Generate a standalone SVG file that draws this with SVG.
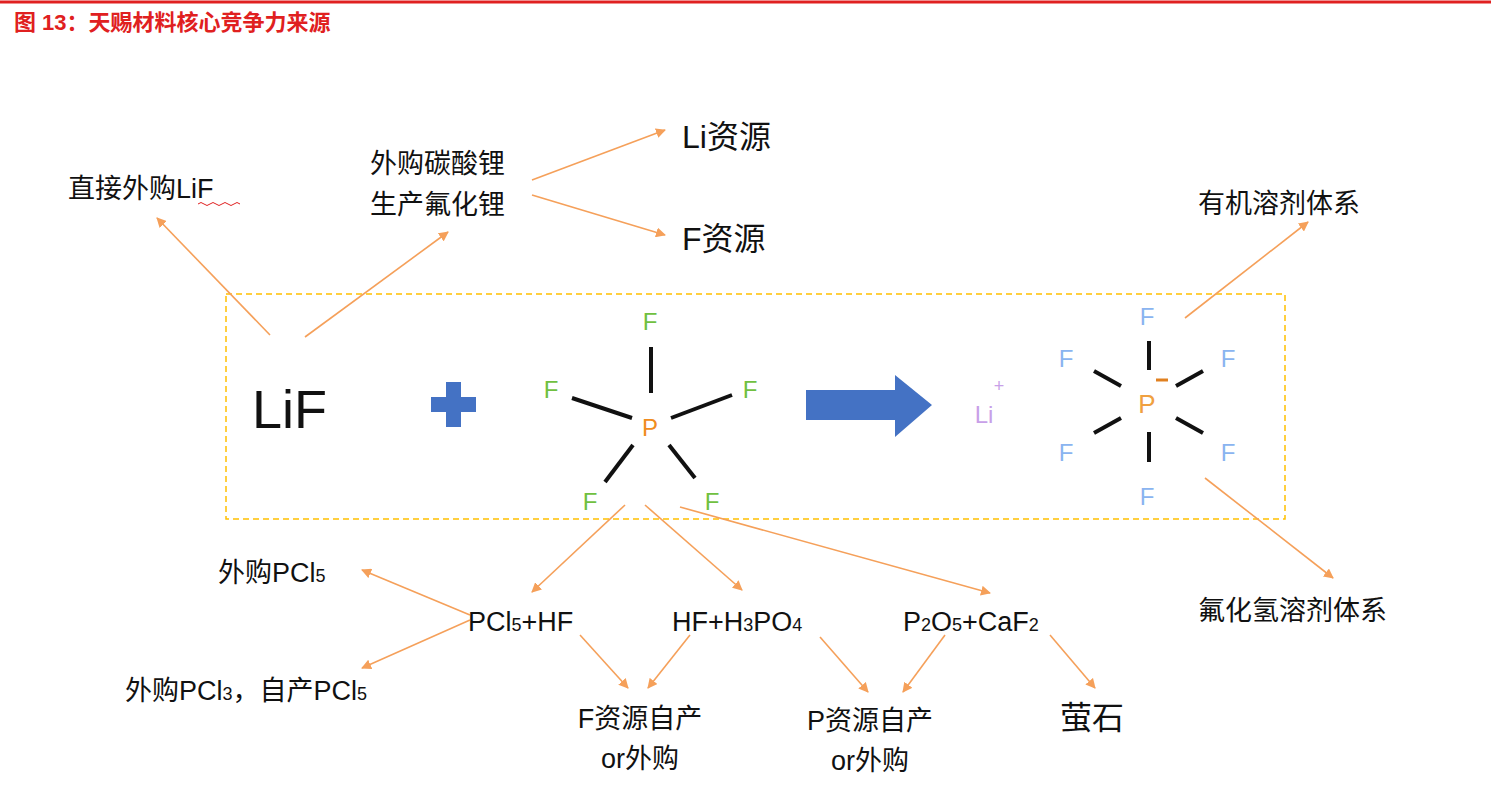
<svg xmlns="http://www.w3.org/2000/svg" width="1491" height="807" viewBox="0 0 1491 807">
<style>
text{font-family:"Liberation Sans","Noto Sans CJK SC",sans-serif;fill:#111}
.t{font-size:27px}
.a{stroke:#F5A05A;stroke-width:1.6;fill:none;marker-end:url(#ah)}
.b{stroke:#111;stroke-width:4;stroke-linecap:butt}
.g{fill:#70C040;font-size:24px}
.f{fill:#8AB4F0;font-size:24px}
</style>
<defs><marker id="ah" markerWidth="10" markerHeight="10" refX="9" refY="5" orient="auto" markerUnits="userSpaceOnUse"><path d="M0,0 L10,5 L0,10 z" fill="#F5A05A"/></marker></defs>
<rect width="1491" height="807" fill="#fff"/>
<line x1="0" y1="2" x2="1491" y2="2" stroke="#E02020" stroke-width="3"/>
<text x="14" y="30" style="fill:#E02020;font-size:22px;font-weight:bold">图 13：天赐材料核心竞争力来源</text>
<rect x="226" y="294" width="1059" height="225" fill="none" stroke="#FFC000" stroke-width="1.5" stroke-dasharray="6,4"/>
<g id="n-lif"><text x="252" y="428" style="font-size:54px">LiF</text></g>
<g id="n-plus"><path d="M446,382h15v15h15v15h-15v15h-15v-15h-15v-15h15z" fill="#4472C4"/></g>
<g id="n-pf5">
<text x="650" y="436" text-anchor="middle" style="fill:#F08C20;font-size:24px">P</text>
<line class="b" x1="651" y1="347" x2="651" y2="393"/>
<line class="b" x1="572" y1="398" x2="632" y2="418"/>
<line class="b" x1="732" y1="395" x2="671" y2="418"/>
<line class="b" x1="633" y1="445" x2="605" y2="482"/>
<line class="b" x1="669" y1="445" x2="695" y2="478"/>
<text class="g" x="650" y="330" text-anchor="middle">F</text>
<text class="g" x="551" y="398" text-anchor="middle">F</text>
<text class="g" x="750" y="398" text-anchor="middle">F</text>
<text class="g" x="590" y="510" text-anchor="middle">F</text>
<text class="g" x="712" y="510" text-anchor="middle">F</text>
</g>
<g id="n-arrow"><path d="M806,390h89v-15l37,30l-37,32v-17h-89z" fill="#4472C4"/></g>
<g id="n-lipf6">
<text x="984" y="423" text-anchor="middle" style="fill:#C8A0E8;font-size:24px">Li</text>
<text x="999" y="392" text-anchor="middle" style="fill:#C8A0E8;font-size:18px">+</text>
<text x="1147" y="413" text-anchor="middle" style="fill:#F0A040;font-size:26px">P</text>
<line x1="1156" y1="380" x2="1168" y2="380" stroke="#E08020" stroke-width="3"/>
<line class="b" x1="1149" y1="341" x2="1149" y2="370"/>
<line class="b" x1="1149" y1="432" x2="1149" y2="462"/>
<line class="b" x1="1094" y1="371" x2="1121" y2="386"/>
<line class="b" x1="1176" y1="386" x2="1203" y2="371"/>
<line class="b" x1="1094" y1="433" x2="1121" y2="418"/>
<line class="b" x1="1176" y1="418" x2="1203" y2="433"/>
<text class="f" x="1147" y="325" text-anchor="middle">F</text>
<text class="f" x="1066" y="367" text-anchor="middle">F</text>
<text class="f" x="1228" y="367" text-anchor="middle">F</text>
<text class="f" x="1066" y="461" text-anchor="middle">F</text>
<text class="f" x="1228" y="461" text-anchor="middle">F</text>
<text class="f" x="1147" y="505" text-anchor="middle">F</text>
</g>
<g id="n-direct"><text class="t" x="68" y="198">直接外购LiF</text><path d="M198,204q3,-3 6,0t6,0t6,0t6,0t6,0t6,0t6,0" stroke="#E02020" fill="none" stroke-width="1"/></g>
<g id="n-buy"><text class="t" x="370" y="173">外购碳酸锂</text><text class="t" x="370" y="214">生产氟化锂</text></g>
<g id="n-li"><text x="682" y="148" style="font-size:32px">Li资源</text></g>
<g id="n-f"><text x="682" y="250" style="font-size:32px">F资源</text></g>
<g id="n-org"><text class="t" x="1198" y="213">有机溶剂体系</text></g>
<g id="n-hf"><text class="t" x="1198" y="620">氟化氢溶剂体系</text></g>
<g id="n-pcl5buy"><text class="t" x="218" y="582">外购PCl<tspan font-size="18">5</tspan></text></g>
<g id="n-pcl3"><text class="t" x="125" y="700">外购PCl<tspan font-size="18">3</tspan>，自产PCl<tspan font-size="18">5</tspan></text></g>
<g id="n-r1"><text class="t" x="468" y="631">PCl<tspan font-size="18">5</tspan>+HF</text></g>
<g id="n-r2"><text class="t" x="672" y="631">HF+H<tspan font-size="18">3</tspan>PO<tspan font-size="18">4</tspan></text></g>
<g id="n-r3"><text class="t" x="903" y="631">P<tspan font-size="18">2</tspan>O<tspan font-size="18">5</tspan>+CaF<tspan font-size="18">2</tspan></text></g>
<g id="n-fself"><text class="t" x="640" y="728" text-anchor="middle">F资源自产</text><text class="t" x="640" y="768" text-anchor="middle">or外购</text></g>
<g id="n-pself"><text class="t" x="870" y="730" text-anchor="middle">P资源自产</text><text class="t" x="870" y="770" text-anchor="middle">or外购</text></g>
<g id="n-ying"><text x="1060" y="729" style="font-size:32px">萤石</text></g>
<g id="connectors">
<line class="a" x1="270" y1="335" x2="157" y2="218"/>
<line class="a" x1="305" y1="337" x2="448" y2="232"/>
<line class="a" x1="532" y1="180" x2="665" y2="130"/>
<line class="a" x1="532" y1="195" x2="665" y2="235"/>
<line class="a" x1="1185" y1="318" x2="1308" y2="222"/>
<line class="a" x1="1205" y1="478" x2="1333" y2="578"/>
<line class="a" x1="625" y1="505" x2="532" y2="592"/>
<line class="a" x1="645" y1="505" x2="742" y2="590"/>
<line class="a" x1="680" y1="507" x2="990" y2="593"/>
<line class="a" x1="470" y1="615" x2="362" y2="570"/>
<line class="a" x1="470" y1="620" x2="362" y2="668"/>
<line class="a" x1="580" y1="635" x2="628" y2="688"/>
<line class="a" x1="690" y1="635" x2="648" y2="688"/>
<line class="a" x1="820" y1="637" x2="868" y2="692"/>
<line class="a" x1="945" y1="635" x2="903" y2="692"/>
<line class="a" x1="1050" y1="635" x2="1095" y2="688"/>
</g>
</svg>
